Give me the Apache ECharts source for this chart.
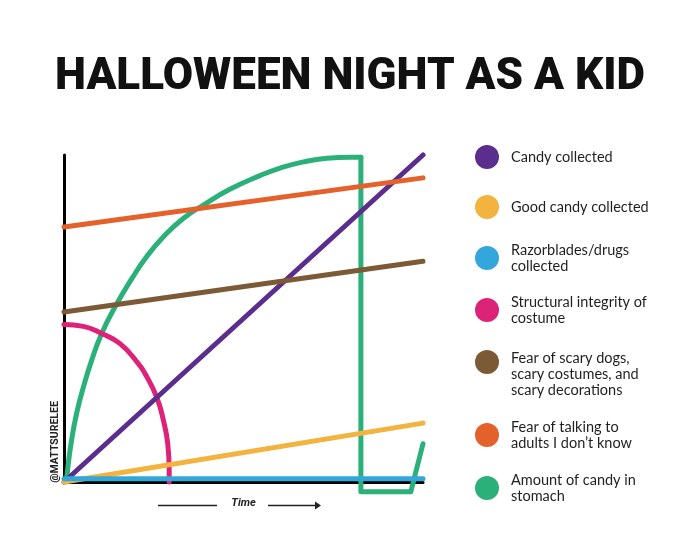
<!DOCTYPE html>
<html>
<head>
<meta charset="utf-8">
<script src="https://cdn.jsdelivr.net/npm/echarts@6/dist/echarts.min.js"></script>
<style>
  html, body { margin: 0; padding: 0; background: #fff; }
  #chart { width: 700px; height: 560px; }
</style>
</head>
<body>
<div id="chart"></div>
<script>
// values, time 0..100, level 0..100
const candyCollected = [[0, 0], [100, 100]];
const goodCandy = [[0, 0], [100, 18]];
const razorblades = [[0, 1], [100, 1]];
const costume = [[0, 48.2], [5.4, 47.6], [10.5, 45.4], [15.6, 42.3], [20.7, 36.2], [22.6, 33.1],
                 [25.8, 26], [27.7, 18.8], [28.9, 11.7], [29.3, 3.5], [29.3, 0]];
const fearScary = [[0, 52], [100, 67.5]];
const fearAdults = [[0, 78], [100, 93]];
const stomachArc = [[0.6, 0], [0.9, 2.5], [1.2, 5.6], [2.1, 12.7], [3.5, 20.9], [5.4, 29],
                    [7.7, 37.2], [10.5, 45.4], [14.2, 53.5], [18.9, 62.2], [23, 68.9],
                    [27.7, 75], [33.2, 80.6], [38.8, 84.7], [46.2, 89.5], [54.6, 93.7],
                    [60.2, 96], [66.7, 97.9], [73.2, 99], [79.7, 99.3], [82.7, 99.3]];
const stomachDrop = [[82.7, 99.3], [82.7, -3], [96.6, -3], [100, 11.7]];

const names = ['Candy collected', 'Good candy collected', 'Razorblades/drugs\ncollected',
  'Structural integrity of\ncostume', 'Fear of scary dogs,\nscary costumes, and\nscary decorations',
  'Fear of talking to\nadults I don\u2019t know', 'Amount of candy in\nstomach'];
const colors = ['#5b2d8c', '#f3b33f', '#33a7dc', '#dc2377', '#7d5a36', '#e5612b', '#2bb07a'];
const legendTops = [145, 195, 242, 294, 326, 419, 472];

const chart = echarts.init(document.getElementById('chart'));

const mkLine = (name, data, color, z, smooth) => ({
  name: name,
  type: 'line',
  data: data,
  smooth: smooth || false,
  symbol: 'none',
  clip: false,
  z: z,
  lineStyle: { color: color, width: 5, cap: 'round', join: 'round' },
  itemStyle: { color: color },
  emphasis: { disabled: true }
});

const legends = names.map((n, i) => ({
  data: [{ name: n, icon: 'circle' }],
  left: 475,
  top: legendTops[i],
  padding: 0,
  itemWidth: 24,
  itemHeight: 24,
  // the three-line item has its dot level with the first line
  formatter: i === 4 ? '{g| }\n{name}' : '{name}',
  textStyle: {
    fontFamily: 'Lato',
    fontSize: 14.5,
    lineHeight: 16,
    color: '#1f1f1f',
    padding: [0, 0, 0, 7],
    rich: { g: { lineHeight: 24, fontSize: 2 } }
  }
}));

const option = {
  animation: false,
  backgroundColor: '#fff',
  title: {
    text: 'HALLOWEEN NIGHT AS A KID',
    left: 'center',
    top: 51,
    textStyle: { fontFamily: 'Roboto', fontWeight: 900, fontSize: 44, color: '#111' }
  },
  legend: legends,
  grid: { left: 64, right: 277, top: 155, bottom: 78 },
  xAxis: {
    type: 'value', min: 0, max: 100,
    name: 'Time', nameLocation: 'middle', nameGap: 16,
    nameTextStyle: { fontFamily: 'Roboto', fontStyle: 'italic', fontWeight: 'bold', fontSize: 11, color: '#222' },
    axisLine: { lineStyle: { color: '#000', width: 3 } },
    axisTick: { show: false }, axisLabel: { show: false }, splitLine: { show: false }
  },
  yAxis: {
    type: 'value', min: 0, max: 100,
    axisLine: { show: true, lineStyle: { color: '#000', width: 3 } },
    axisTick: { show: false }, axisLabel: { show: false }, splitLine: { show: false }
  },
  graphic: [
    { type: 'text', x: 55, y: 442, rotation: Math.PI / 2,
      style: { text: '@MATTSURELEE', fontFamily: 'Roboto', fontWeight: 'bold', fontSize: 10.5,
               fill: '#222', textAlign: 'center', textVerticalAlign: 'middle' } },
    { type: 'line', shape: { x1: 158, y1: 505.5, x2: 217, y2: 505.5 }, style: { stroke: '#222', lineWidth: 1.3 } },
    { type: 'line', shape: { x1: 268, y1: 505.5, x2: 316, y2: 505.5 }, style: { stroke: '#222', lineWidth: 1.3 } },
    { type: 'polygon', shape: { points: [[315, 501.5], [321, 505.5], [315, 509.5]] }, style: { fill: '#222' } }
  ],
  series: [
    mkLine(names[0], candyCollected, colors[0], 4),
    mkLine(names[1], goodCandy, colors[1], 4),
    mkLine(names[2], razorblades, colors[2], 4),
    mkLine(names[3], costume, colors[3], 3, 0.5),
    mkLine(names[4], fearScary, colors[4], 4),
    mkLine(names[5], fearAdults, colors[5], 4),
    mkLine(names[6], stomachArc, colors[6], 2, 0.5),
    mkLine(names[6], stomachDrop, colors[6], 2)
  ]
};

chart.setOption(option);
</script>
</body>
</html>
